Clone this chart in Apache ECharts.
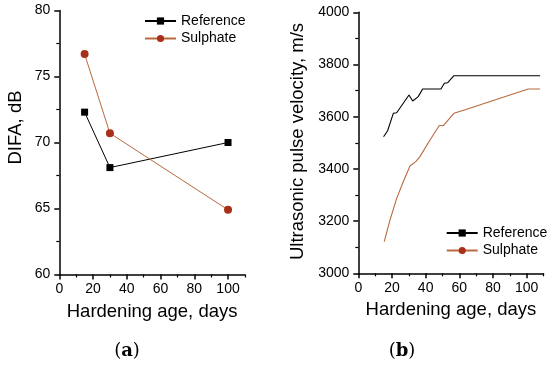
<!DOCTYPE html>
<html>
<head>
<meta charset="utf-8">
<script src="https://cdn.jsdelivr.net/npm/echarts@6/dist/echarts.min.js"></script>
<style>
html,body{margin:0;padding:0;background:#fff;}
#chart{width:550px;height:365px;}
</style>
</head>
<body>
<div id="chart"></div>
<script>
// ---- Data (a): DIFA vs hardening age ----
const leftDays = [15, 30, 100];
const leftReference = [72.3, 68.1, 70.0];
const leftSulphate = [76.7, 70.7, 64.9];

// ---- Data (b): ultrasonic pulse velocity vs hardening age ----
const refDays = [15, 17.4, 20.8, 22.8, 30.1, 32.3, 35.6, 38.2, 49.1, 51.1, 53, 56.8, 108];
const refVelocity = [3523, 3546, 3613, 3615, 3683, 3660, 3677, 3706, 3706, 3728, 3730, 3757, 3757];
const sulDays = [15.4, 18.8, 22.8, 26.7, 30.7, 34.1, 36.6, 42.6, 48.1, 50.5, 56.8, 63, 100.9, 108];
const sulVelocity = [3121, 3204, 3287, 3351, 3411, 3428, 3447, 3511, 3566, 3566, 3613, 3626, 3706, 3706];

// ---- Axis ticks ----
const xMajor = [0, 20, 40, 60, 80, 100];
const xMinor = [10, 30, 50, 70, 90, 110];
const seriesNames = ['Reference', 'Sulphate'];
const xTitle = 'Hardening age, days';
const yTitleA = 'DIFA, dB';
const yTitleB = 'Ultrasonic pulse velocity, m/s';

const FONT = 'Liberation Sans, Arial, sans-serif';
const zip = (xs, ys) => xs.map((x, i) => [x, ys[i]]);
const REF_COLOR = '#000';
const SUL_LINE = '#b8693e';
const SUL_MARK = '#a8301a';

const chart = echarts.init(document.getElementById('chart'), null, {renderer: 'canvas'});

function mainX(gi) {
  return {
    type: 'value', gridIndex: gi, min: 0, max: 110, interval: 20, position: 'bottom',
    axisLine: {show: true, lineStyle: {color: '#000', width: 1.5}},
    axisTick: {show: true, inside: false, length: 5, customValues: xMajor, lineStyle: {color: '#000', width: 1.5}},
    axisLabel: {show: true, customValues: xMajor, margin: 8, fontSize: 14, color: '#000', fontFamily: FONT,
                formatter: v => String(v)},
    splitLine: {show: false}
  };
}
function minorX(gi) {
  return {
    type: 'value', gridIndex: gi, min: 0, max: 110, interval: 10, position: 'bottom',
    axisLine: {show: false},
    axisTick: {show: true, inside: false, length: 3, customValues: xMinor, lineStyle: {color: '#000', width: 1.2}},
    axisLabel: {show: false},
    splitLine: {show: false}
  };
}
function yAx(gi, min, max, interval) {
  return {
    type: 'value', gridIndex: gi, min: min, max: max, interval: interval,
    axisLine: {show: true, lineStyle: {color: '#000', width: 1.5}},
    axisTick: {show: true, inside: false, length: 5, lineStyle: {color: '#000', width: 1.5}},
    minorTick: {show: true, splitNumber: 2, length: 3, lineStyle: {color: '#000', width: 1.2}},
    axisLabel: {margin: 9, fontSize: 14, color: '#000', fontFamily: FONT, formatter: v => String(v)},
    splitLine: {show: false}, minorSplitLine: {show: false}
  };
}
function legendAt(left, top) {
  return {
    left: left, top: top, orient: 'vertical', padding: 0,
    itemWidth: 31, itemHeight: 9, itemGap: 3.5, selectedMode: false,
    textStyle: {fontSize: 14, color: '#000', fontFamily: FONT},
    data: seriesNames
  };
}
function titleText(x, y, text, rot, size) {
  return {
    type: 'text', x: x, y: y, rotation: rot,
    style: {text: text, fontSize: size, fontFamily: FONT, fill: '#000', align: 'center', verticalAlign: 'middle'}
  };
}
function panelLabel(x, y, letter) {
  return {
    type: 'text', x: x, y: y,
    style: {
      text: '{n|(}{b|' + letter + '}{n|)}', align: 'center', verticalAlign: 'middle',
      rich: {
        n: {fontSize: 18, fontFamily: 'DejaVu Serif, serif', fill: '#000'},
        b: {fontSize: 18, fontFamily: 'DejaVu Serif, serif', fontWeight: 'bold', fill: '#000'}
      }
    }
  };
}

chart.setOption({
  backgroundColor: '#fff',
  animation: false,
  grid: [
    {left: 59.3, top: 10.5, width: 185.6, height: 264, containLabel: false},
    {left: 358.3, top: 12.3, width: 185.2, height: 261, containLabel: false}
  ],
  xAxis: [mainX(0), minorX(0), mainX(1), minorX(1)],
  yAxis: [yAx(0, 60, 80, 5), yAx(1, 3000, 4000, 200)],
  legend: [legendAt(144, 14), legendAt(445.7, 226)],
  series: [
    {name: seriesNames[0], type: 'line', xAxisIndex: 0, yAxisIndex: 0, data: zip(leftDays, leftReference),
     symbol: 'rect', symbolSize: 7, itemStyle: {color: REF_COLOR}, lineStyle: {color: REF_COLOR, width: 1}},
    {name: seriesNames[1], type: 'line', xAxisIndex: 0, yAxisIndex: 0, data: zip(leftDays, leftSulphate),
     symbol: 'circle', symbolSize: 8, itemStyle: {color: SUL_MARK}, lineStyle: {color: SUL_LINE, width: 1}},
    {name: seriesNames[0], type: 'line', xAxisIndex: 2, yAxisIndex: 1, data: zip(refDays, refVelocity),
     symbol: 'rect', symbolSize: 7, showSymbol: false, itemStyle: {color: REF_COLOR}, lineStyle: {color: REF_COLOR, width: 1.1}},
    {name: seriesNames[1], type: 'line', xAxisIndex: 2, yAxisIndex: 1, data: zip(sulDays, sulVelocity),
     symbol: 'circle', symbolSize: 8, showSymbol: false, itemStyle: {color: SUL_MARK}, lineStyle: {color: SUL_LINE, width: 1.1}}
  ],
  graphic: [
    titleText(152.1, 311.5, xTitle, 0, 18.5),
    titleText(450.9, 310, xTitle, 0, 18.5),
    titleText(15.5, 127.5, yTitleA, Math.PI / 2, 18.5),
    titleText(298, 141.5, yTitleB, Math.PI / 2, 18.5),
    panelLabel(127, 351.5, 'a'),
    panelLabel(402, 351.5, 'b')
  ]
});
</script>
</body>
</html>
